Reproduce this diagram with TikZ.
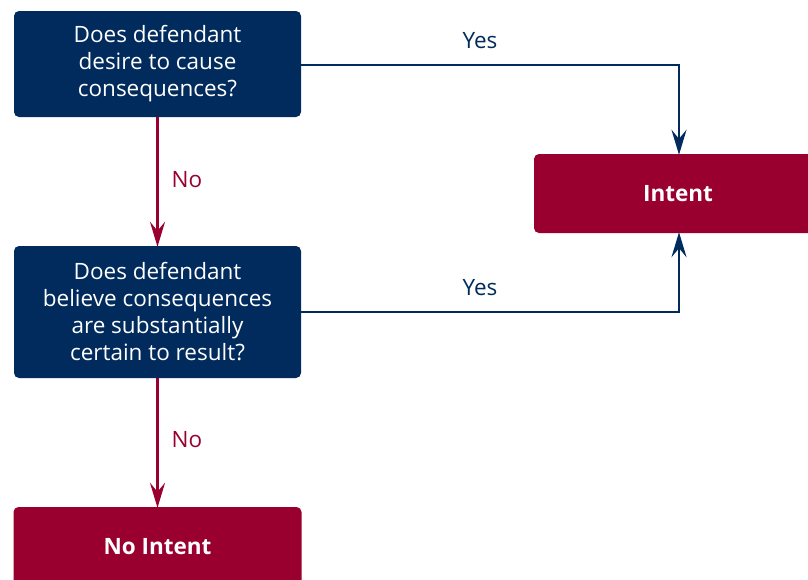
\documentclass[tikz,border=0pt]{standalone}
\usepackage{fontspec}
\setmainfont{Open Sans}
\usetikzlibrary{arrows.meta}
\definecolor{navy}{HTML}{002B5C}
\definecolor{crimson}{HTML}{990030}
\begin{document}
\begin{tikzpicture}[x=1pt,y=-1pt,
  question/.style={fill=navy,rounded corners=5pt,text=white,align=center,
    font=\fontsize{22.5}{27}\selectfont,inner sep=0pt,minimum width=287pt},
  outcome/.style={fill=crimson,rounded corners=5pt,text=white,align=center,
    font=\fontsize{22.5}{27}\selectfont\bfseries,inner sep=0pt,minimum width=288pt},
  tip/.style={-{Stealth[length=25pt,width=15pt,inset=9pt]}},
  yesline/.style={draw=navy,line width=2.6pt,tip},
  noline/.style={draw=crimson,line width=2.6pt,tip},
  lab/.style={font=\fontsize{22.5}{25}\selectfont,inner sep=0pt}]
\useasboundingbox (0,0) rectangle (808,579);
\node[question,minimum height=106pt] (q1) at (157.5,64) {Does defendant\\desire to cause\\consequences?};
\node[question,minimum height=132pt] (q2) at (157.5,312) {Does defendant\\believe consequences\\are substantially\\certain to result?};
\node[outcome,minimum height=79pt] (int) at (678,193.5) {Intent};
\node[outcome,minimum height=79pt] (noint) at (157.5,546.5) {No Intent};
\coordinate (c1) at (679,65);
\coordinate (c2) at (679,312);
\draw[yesline] (q1.east |- c1) -- (c1) -- ([yshift=-1pt]int.north -| c1);
\draw[yesline] (q2.east |- c2) -- (c2) -- ([yshift=1pt]int.south -| c2);
\draw[noline] (q1.south) -- ([yshift=-1pt]q2.north);
\draw[noline] (q2.south) -- ([yshift=-1pt]noint.north);
\node[lab,text=navy] (y1) at (480,41) {Yes};
\node[lab,text=navy] (y2) at (480,288) {Yes};
\node[lab,text=crimson] (n1) at (187,180) {No};
\node[lab,text=crimson] (n2) at (187,440) {No};
\end{tikzpicture}
\end{document}
